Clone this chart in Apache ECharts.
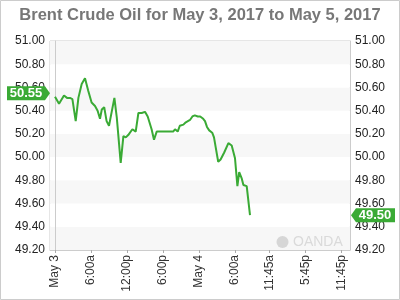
<!DOCTYPE html>
<html>
<head>
<meta charset="utf-8">
<script src="https://cdn.jsdelivr.net/npm/echarts@6/dist/echarts.min.js"></script>
<style>html,body{margin:0;padding:0;background:#fff}#c{width:400px;height:300px}</style>
</head>
<body>
<div id="c"></div>
<script>
// hours after May 3 00:00
var hours = [0.0,0.67,1.0,1.5,2.0,2.5,2.9,3.45,3.9,4.45,5.0,5.55,6.1,6.67,7.1,7.5,7.8,8.2,8.6,9.0,9.33,9.9,10.3,10.95,11.4,11.8,12.2,12.9,13.45,13.9,14.45,15.0,15.45,16.1,16.5,16.95,18.9,19.7,20.0,20.45,20.8,21.1,21.4,21.8,22.1,22.5,22.9,23.3,23.8,24.2,24.7,25.0,25.33,25.7,26.2,26.5,26.8,27.2,27.6,28.2,28.9,29.45,30.0,30.4,30.7,31.1,31.4,31.95,32.5];
var prices = [50.52,50.46,50.46,50.53,50.51,50.51,50.50,50.31,50.51,50.63,50.68,50.57,50.47,50.44,50.40,50.33,50.41,50.43,50.31,50.27,50.28,50.51,50.34,49.95,50.18,50.17,50.19,50.24,50.22,50.38,50.38,50.39,50.35,50.24,50.15,50.22,50.22,50.22,50.24,50.22,50.27,50.26,50.28,50.30,50.31,50.32,50.35,50.36,50.35,50.35,50.33,50.31,50.26,50.23,50.21,50.17,50.08,49.96,49.98,50.04,50.12,50.10,49.99,49.75,49.87,49.82,49.76,49.75,49.50];
var tickHours = [0,6,12,18,24,30,35.75,41.75,47.75];
var tickLabels = ['May 3','6:00a','12:00p','6:00p','May 4','6:00a','11:45a','5:45p','11:45p'];
var openPrice = 50.55;
var lastPrice = 49.50;
var xMin = -0.8333, xMax = 49.1667;

var lineData = hours.map(function(h,i){return [h, prices[i]];});
var FONT = 'Liberation Sans, Arial, sans-serif';
var GREEN = '#3aaa35';

var chart = echarts.init(document.getElementById('c'), null, {renderer:'canvas'});
var yAxisBase = {
  type:'value', min:49.2, max:51, interval:0.2,
  axisLine:{show:true, lineStyle:{color:'#cccccc'}},
  axisTick:{show:false},
  splitLine:{show:false},
  axisLabel:{color:'#222', fontSize:12, fontFamily:FONT, margin:5, formatter:function(v){return v.toFixed(2);}}
};
chart.setOption({
  animation:false,
  backgroundColor:'#fff',
  title:{text:'Brent Crude Oil for May 3, 2017 to May 5, 2017', left:'center', top:2,
    textStyle:{color:'#777', fontSize:16.5, fontWeight:'bold', fontFamily:FONT}},
  grid:{left:50, right:50, top:41, bottom:50, show:true, borderColor:'#cccccc', borderWidth:1, backgroundColor:'transparent'},
  xAxis:{type:'value', min:xMin, max:xMax,
    axisLine:{show:true, lineStyle:{color:'#cccccc'}},
    axisTick:{show:true, length:3, lineStyle:{color:'#aaaaaa'}, customValues:tickHours},
    splitLine:{show:false},
    axisLabel:{rotate:90, color:'#333', fontSize:12, fontFamily:FONT, margin:5, customValues:tickHours,
      formatter:function(v){var i=tickHours.indexOf(v); return i>=0?tickLabels[i]:'';}}
  },
  yAxis:[
    Object.assign({}, yAxisBase, {position:'left', splitArea:{show:true, areaStyle:{color:['#f7f7f7','#ffffff']}}}),
    Object.assign({}, yAxisBase, {position:'right', splitArea:{show:false}})
  ],
  graphic:[
    {type:'rect', shape:{x:0.5,y:0.5,width:399,height:299}, style:{fill:'none', stroke:'#cccccc', lineWidth:1}, z:100},
    {type:'circle', shape:{cx:282.5, cy:242, r:6}, style:{fill:'#d6d6d6'}, z:1},
    {type:'text', x:293, y:242, style:{text:'OANDA', fill:'#dadada', fontSize:14, fontFamily:FONT, verticalAlign:'middle'}, z:1}
  ],
  series:[
    {type:'line', data:lineData, showSymbol:false, symbol:'none', lineStyle:{color:GREEN, width:2}, z:3},
    {type:'custom', clip:false, z:5,
      data:[[xMin, openPrice, 0],[xMax, lastPrice, 1]],
      renderItem:function(params, api){
        var cs = params.coordSys;
        var y = api.coord([api.value(0), api.value(1)])[1];
        var side = api.value(2);
        var txt = api.value(1).toFixed(2);
        var pts, cx;
        if(side===0){
          var px = cs.x;
          pts=[[px-43,y-7],[px-5,y-7],[px,y],[px-5,y+7],[px-43,y+7]];
          cx = px-24;
        } else {
          var px2 = cs.x+cs.width+1;
          pts=[[px2,y],[px2+5,y-7],[px2+44,y-7],[px2+44,y+7],[px2+5,y+7]];
          cx = px2+24;
        }
        return {type:'group', children:[
          {type:'polygon', shape:{points:pts}, style:{fill:GREEN}},
          {type:'text', x:cx, y:y, style:{text:txt, fill:'#fff', fontSize:13, fontWeight:'bold', fontFamily:FONT, align:'center', verticalAlign:'middle'}}
        ]};
      }
    }
  ]
});
</script>
</body>
</html>
